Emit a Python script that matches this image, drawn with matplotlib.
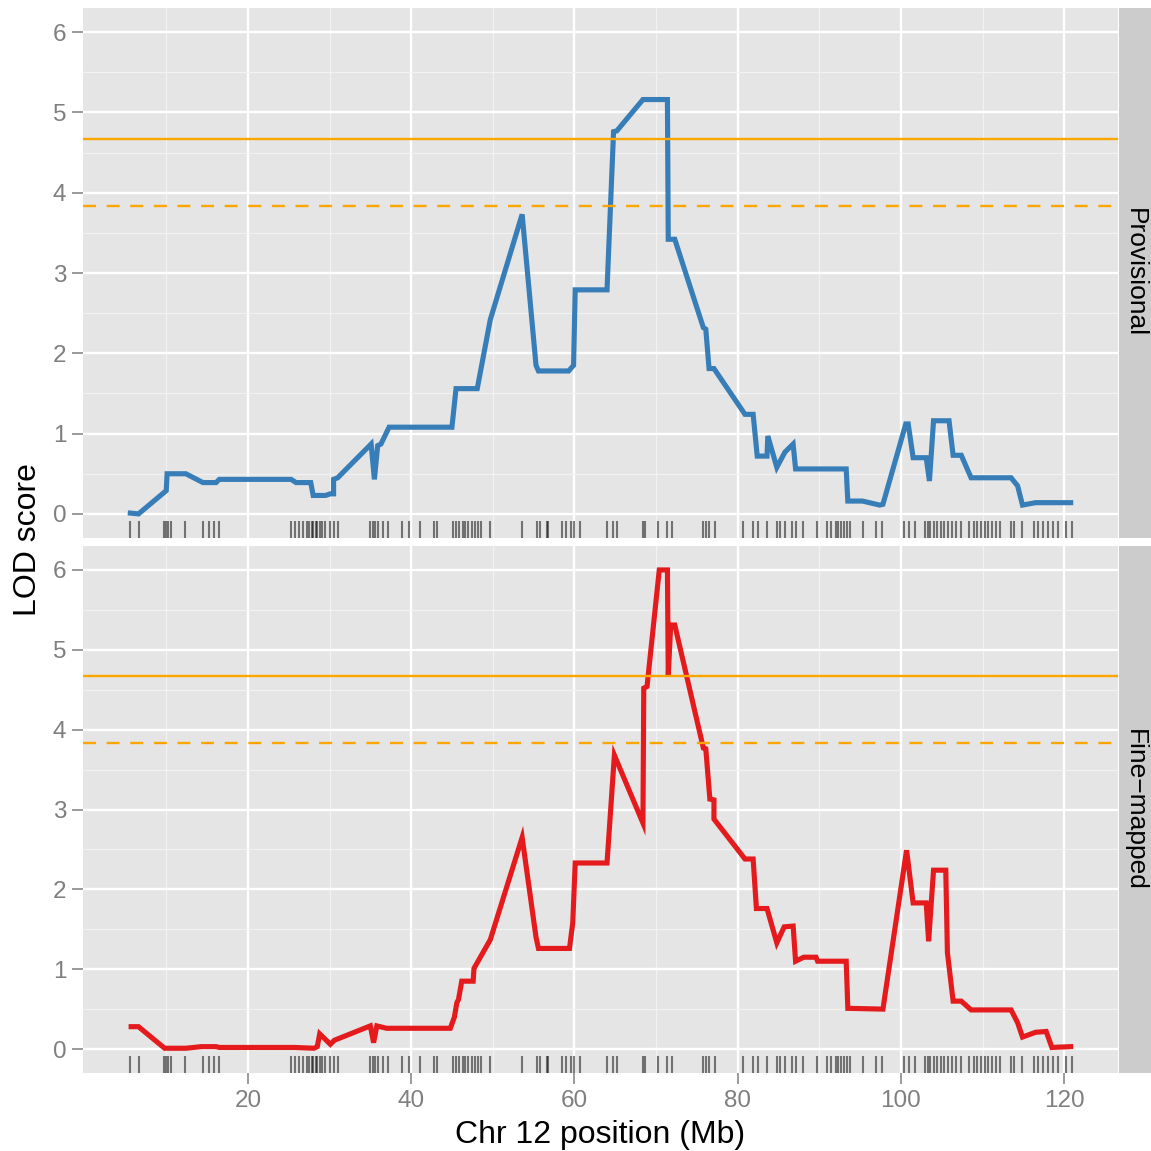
"""LOD profiles along chromosome 12, provisional vs fine-mapped markers."""

import matplotlib.pyplot as plt
import numpy as np

plt.rcParams['font.family'] = ['Liberation Sans', 'DejaVu Sans']

# Provisional scan (Mb, LOD)
prov_pos = [5.6, 6.6, 10.0, 10.1, 12.4, 14.5, 16.1, 16.5, 25.3, 25.9, 27.7,
            28.0, 29.5, 30.1, 30.5, 30.5, 31.0, 35.1, 35.5, 35.9, 36.3, 37.3,
            45.0, 45.5, 48.1, 49.7, 53.6, 55.3, 55.6, 59.3, 59.9, 60.1, 64.0,
            64.8, 65.2, 68.4, 71.4, 71.5, 72.3, 75.8, 76.1, 76.5, 77.1, 80.9,
            81.9, 82.4, 83.6, 83.7, 84.8, 85.8, 86.8, 87.1, 93.3, 93.5, 95.3,
            97.4, 97.8, 100.6, 100.9, 101.5, 103.1, 103.5, 104.0, 105.9,
            106.4, 107.4, 108.6, 113.5, 114.3, 114.9, 116.5, 120.8]
prov_lod = [0.01, 0.0, 0.29, 0.50, 0.50, 0.39, 0.39, 0.43, 0.43, 0.39, 0.39,
            0.23, 0.23, 0.25, 0.25, 0.43, 0.45, 0.87, 0.43, 0.85, 0.87, 1.08,
            1.08, 1.56, 1.56, 2.42, 3.73, 1.85, 1.78, 1.78, 1.85, 2.79, 2.79,
            4.76, 4.77, 5.16, 5.16, 3.42, 3.42, 2.32, 2.30, 1.81, 1.81, 1.24,
            1.24, 0.72, 0.72, 0.97, 0.58, 0.77, 0.87, 0.56, 0.56, 0.16, 0.16,
            0.11, 0.12, 1.12, 1.12, 0.70, 0.70, 0.41, 1.16, 1.16, 0.73, 0.73,
            0.45, 0.45, 0.35, 0.11, 0.14, 0.14]

# Fine-mapped scan (Mb, LOD)
fine_pos = [5.7, 6.6, 9.8, 12.4, 14.3, 16.1, 16.5, 25.7, 28.1, 28.5, 28.8,
            30.1, 30.6, 35.0, 35.4, 35.8, 37.0, 44.8, 45.3, 45.6, 45.8, 46.2,
            47.1, 47.6, 47.7, 49.7, 53.6, 55.3, 55.6, 59.4, 59.8, 60.1, 64.0,
            64.9, 68.4, 68.5, 68.9, 70.4, 71.4, 71.5, 71.8, 72.3, 75.8, 76.1,
            76.6, 77.1, 77.1, 80.9, 81.9, 82.3, 83.6, 84.8, 85.7, 86.8, 87.1,
            88.1, 89.6, 89.8, 93.3, 93.5, 97.8, 100.7, 101.5, 103.1, 103.4,
            104.0, 105.5, 105.7, 106.4, 107.4, 108.6, 113.5, 114.3, 114.9,
            116.5, 117.8, 118.5, 120.8]
fine_lod = [0.28, 0.28, 0.01, 0.01, 0.03, 0.03, 0.02, 0.02, 0.01, 0.03, 0.19,
            0.06, 0.11, 0.29, 0.08, 0.29, 0.26, 0.26, 0.40, 0.58, 0.62, 0.85,
            0.85, 0.85, 1.01, 1.37, 2.65, 1.40, 1.26, 1.26, 1.58, 2.33, 2.33,
            3.68, 2.83, 4.52, 4.54, 6.0, 6.0, 4.67, 5.31, 5.31, 3.77, 3.76,
            3.13, 3.12, 2.88, 2.38, 2.38, 1.76, 1.76, 1.33, 1.53, 1.54, 1.10,
            1.15, 1.15, 1.10, 1.10, 0.51, 0.50, 2.49, 1.83, 1.83, 1.35, 2.24,
            2.24, 1.21, 0.60, 0.60, 0.49, 0.49, 0.33, 0.15, 0.21, 0.22, 0.02,
            0.03]

# Marker positions (Mb)
markers = [5.5, 6.6, 9.7, 10.0, 10.2, 10.6, 12.3, 14.5, 15.2, 15.8, 16.5,
           25.3, 25.8, 26.3, 26.8, 27.2, 27.5, 27.8, 28.0, 28.3, 28.5, 28.8,
           29.1, 29.5, 30.0, 30.5, 31.1, 35.0, 35.3, 35.6, 36.0, 36.5, 37.2,
           38.9, 39.7, 41.1, 42.8, 43.2, 45.1, 45.5, 45.9, 46.3, 46.6, 47.0,
           47.4, 47.8, 48.2, 48.6, 49.7, 53.6, 55.4, 55.8, 56.6, 56.8, 58.5,
           59.0, 59.6, 60.0, 60.7, 64.0, 64.7, 65.2, 68.4, 68.6, 70.2, 71.3,
           71.9, 75.7, 76.1, 76.5, 77.2, 80.6, 81.9, 82.5, 83.6, 84.8, 85.2,
           85.8, 86.6, 87.2, 88.0, 89.7, 91.0, 91.5, 92.0, 92.3, 92.7, 93.0,
           93.4, 93.8, 95.3, 97.0, 97.7, 100.4, 101.0, 101.7, 102.9, 103.3,
           103.6, 104.0, 104.4, 104.9, 105.3, 105.8, 106.3, 106.8, 107.4,
           108.4, 108.9, 109.3, 109.8, 110.3, 110.7, 111.2, 111.6, 112.1,
           113.5, 113.9, 114.9, 116.3, 116.8, 117.4, 118.0, 118.6, 119.2,
           120.2, 121.0]

thresh_solid = 4.67
thresh_dashed = 3.83

panels = [('Provisional', prov_pos, prov_lod, '#377EB8'),
          ('Fine\u2212mapped', fine_pos, fine_lod, '#E41A1C')]

W = 1151


def style_panel(ax):
    """Grey panel, white grid, ggplot-like ticks."""
    ax.set_facecolor('#E5E5E5')
    for s in ax.spines.values():
        s.set_visible(False)
    ax.set_xlim(-0.2, 126.6)
    ax.set_ylim(-0.3, 6.3)
    ax.set_xticks([20, 40, 60, 80, 100, 120])
    ax.set_xticks(np.arange(10, 130, 20), minor=True)
    ax.set_yticks(range(7))
    ax.set_yticks(np.arange(0.5, 6.5, 1), minor=True)
    ax.grid(True, which='major', color='white', linewidth=1.7)
    ax.grid(True, which='minor', color='#F2F2F2', linewidth=0.9)
    ax.set_axisbelow(True)
    ax.tick_params(which='major', length=8, width=1.1, color='#7F7F7F',
                   labelcolor='#7F7F7F', labelsize=17.5, pad=4)
    ax.tick_params(which='minor', length=0)


fig = plt.figure(figsize=(W / 100, W / 100), dpi=100)
left, right = 83 / W, 1118 / W
boxes = [(8, 538), (546, 1073)]
strip_w = (W - 1119) / W

axes = []
for (top_px, bot_px), (name, pos, lod, color) in zip(boxes, panels):
    b = 1 - bot_px / W
    h = (bot_px - top_px) / W
    ax = fig.add_axes([left, b, right - left, h])
    style_panel(ax)
    ax.plot(pos, lod, color=color, linewidth=3.7, solid_joinstyle='miter',
            zorder=3)
    ax.axhline(thresh_solid, color='#FFA500', linewidth=1.7, zorder=4)
    ax.axhline(thresh_dashed, color='#FFA500', linewidth=1.7,
               linestyle=(0, (5.5, 4.5)), zorder=4)
    ax.vlines(markers, 0, 0.033, transform=ax.get_xaxis_transform(),
              color='black', alpha=0.5, linewidth=1.5, zorder=3)

    # facet strip on the right
    sax = fig.add_axes([1119 / W, b, strip_w, h])
    sax.set_facecolor('#CCCCCC')
    sax.set_xticks([])
    sax.set_yticks([])
    for s in sax.spines.values():
        s.set_visible(False)
    sax.text(0.5, 0.5, name, rotation=-90, ha='center', va='center',
             fontsize=19, color='black', transform=sax.transAxes)
    axes.append(ax)

axes[0].tick_params(axis='x', length=0, labelbottom=False)
fig.text(600 / W, 1 - 1135 / W, 'Chr 12 position (Mb)', ha='center',
         va='center', fontsize=23)
fig.text(28 / W, 1 - 540 / W, 'LOD score', rotation=90, ha='center',
         va='center', fontsize=23)

fig.savefig('out.png', dpi=100)
plt.close(fig)
